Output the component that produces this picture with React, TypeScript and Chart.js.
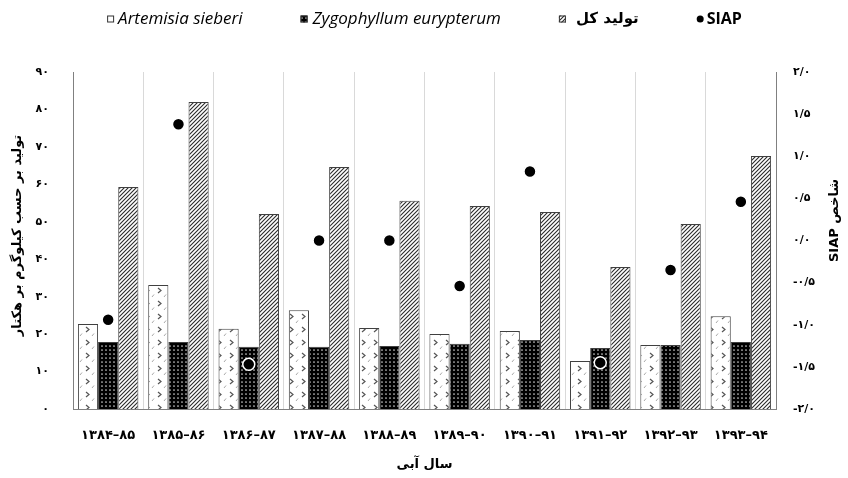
import React, { useEffect, useRef } from 'react';
import { Chart, registerables } from 'chart.js';
Chart.register(...registerables);

const categories = ['۱۳۸۴–۸۵', '۱۳۸۵–۸۶', '۱۳۸۶–۸۷', '۱۳۸۷–۸۸', '۱۳۸۸–۸۹', '۱۳۸۹–۹۰', '۱۳۹۰–۹۱', '۱۳۹۱–۹۲', '۱۳۹۲–۹۳', '۱۳۹۳–۹۴'];
const artemisia = [22.7, 33.1, 21.4, 26.4, 21.6, 20.0, 20.8, 12.8, 17.1, 24.8];
const zygophyllum = [17.9, 17.9, 16.6, 16.6, 16.8, 17.4, 18.4, 16.3, 17.1, 17.9];
const totalProduction = [59.3, 82.0, 52.1, 64.6, 55.6, 54.2, 52.6, 37.9, 49.4, 67.6];
const siap = [-0.94, 1.38, -1.47, 0.0, 0.0, -0.54, 0.82, -1.45, -0.35, 0.46];

const seriesNames = ['Artemisia sieberi', 'Zygophyllum eurypterum', 'تولید کل', 'SIAP'];
const leftAxisTitle = 'تولید بر حسب کیلوگرم بر هکتار';
const rightAxisTitle = 'شاخص SIAP';
const xAxisTitle = 'سال آبی';

const FA_DIGITS = '۰۱۲۳۴۵۶۷۸۹';
const toFa = (s: string) => s.replace(/\d/g, (d) => FA_DIGITS[Number(d)]);

const FA_FONT = '"DejaVu Sans", sans-serif';
const LAT_FONT = '"Open Sans", Lato, sans-serif';

function makePattern(kind: 'art' | 'zyg' | 'tot'): CanvasPattern | string {
  const c = document.createElement('canvas');
  const ctx = c.getContext('2d')!;
  if (kind === 'art') {
    c.width = 12; c.height = 13;
    ctx.fillStyle = '#ffffff';
    ctx.fillRect(0, 0, 12, 13);
    ctx.strokeStyle = '#555555';
    ctx.lineWidth = 1.2;
    ctx.beginPath();
    ctx.moveTo(2, 2); ctx.lineTo(5, 4.5); ctx.lineTo(2, 7);
    ctx.stroke();
    ctx.strokeStyle = '#aaaaaa';
    ctx.lineWidth = 1;
    ctx.beginPath();
    ctx.moveTo(8, 11); ctx.lineTo(10, 8.5);
    ctx.stroke();
  } else if (kind === 'zyg') {
    c.width = 4; c.height = 4;
    ctx.fillStyle = '#000000';
    ctx.fillRect(0, 0, 4, 4);
    ctx.fillStyle = '#d0d0d0';
    ctx.beginPath();
    ctx.arc(2, 2, 0.85, 0, Math.PI * 2);
    ctx.fill();
  } else {
    c.width = 4; c.height = 4;
    ctx.fillStyle = '#ffffff';
    ctx.fillRect(0, 0, 4, 4);
    ctx.strokeStyle = '#2a2a2a';
    ctx.lineWidth = 1.1;
    ctx.beginPath();
    ctx.moveTo(-1, 1); ctx.lineTo(1, -1);
    ctx.moveTo(0, 4); ctx.lineTo(4, 0);
    ctx.moveTo(3, 5); ctx.lineTo(5, 3);
    ctx.stroke();
  }
  return ctx.createPattern(c, 'repeat') || '#888';
}

export default function App() {
  const ref = useRef<HTMLCanvasElement | null>(null);

  useEffect(() => {
    if (!ref.current) return;
    const artP = makePattern('art');
    const zygP = makePattern('zyg');
    const totP = makePattern('tot');

    const decorPlugin = {
      id: 'decor',
      afterDraw(chart: any) {
        const ctx = chart.ctx as CanvasRenderingContext2D;
        const area = chart.chartArea;
        ctx.save();
        ctx.fillStyle = '#000';
        ctx.textBaseline = 'middle';
        ctx.textAlign = 'center';
        // left axis title
        ctx.save();
        ctx.font = `bold 13px ${FA_FONT}`;
        ctx.translate(18, (area.top + area.bottom) / 2 - 5);
        ctx.rotate(-Math.PI / 2);
        ctx.fillText(leftAxisTitle, 0, 0);
        ctx.restore();
        // right axis title
        ctx.save();
        ctx.font = `bold 13px ${FA_FONT}`;
        ctx.direction = 'rtl';
        ctx.translate(835, (area.top + area.bottom) / 2 - 20);
        ctx.rotate(-Math.PI / 2);
        ctx.fillText(rightAxisTitle, 0, 0);
        ctx.restore();
        // x axis title
        ctx.font = `bold 13px ${FA_FONT}`;
        ctx.fillText(xAxisTitle, (area.left + area.right) / 2, 465);

        // legend
        const fonts = [
          `italic 17px ${LAT_FONT}`,
          `italic 17px ${LAT_FONT}`,
          `bold 15px ${FA_FONT}`,
          `bold 16px ${LAT_FONT}`,
        ];
        const gaps = [4, 5, 10, 3];
        const boxW = 7, itemGap = 58;
        const widths = seriesNames.map((t, i) => {
          ctx.font = fonts[i];
          return boxW + gaps[i] + ctx.measureText(t).width;
        });
        const total = widths.reduce((a, b) => a + b, 0) + itemGap * (widths.length - 1);
        let x = (area.left + area.right) / 2 - total / 2;
        const y = 19;
        ctx.textAlign = 'left';
        seriesNames.forEach((t, i) => {
          if (i === 3) {
            ctx.fillStyle = '#000';
            ctx.beginPath();
            ctx.arc(x + 3.5, y, 3.5, 0, Math.PI * 2);
            ctx.fill();
          } else {
            ctx.fillStyle = i === 0 ? '#ffffff' : i === 1 ? (zygP as any) : (totP as any);
            ctx.fillRect(x, y - 3.5, boxW, boxW);
            ctx.strokeStyle = '#333';
            ctx.lineWidth = 1;
            ctx.strokeRect(x + 0.5, y - 3.5 + 0.5, boxW - 1, boxW - 1);
          }
          ctx.fillStyle = '#000';
          ctx.font = fonts[i];
          ctx.fillText(t, x + boxW + gaps[i], y);
          x += widths[i] + itemGap;
        });
        ctx.restore();
      },
    };

    const chart = new Chart(ref.current, {
      type: 'bar',
      data: {
        labels: categories,
        datasets: [
          {
            type: 'line',
            label: seriesNames[3],
            data: siap,
            yAxisID: 'y1',
            showLine: false,
            pointRadius: 6,
            pointBackgroundColor: '#000',
            pointBorderColor: '#ffffff',
            pointBorderWidth: 1.5,
            order: 0,
          } as any,
          {
            label: seriesNames[0],
            data: artemisia,
            backgroundColor: artP as any,
            borderColor: '#404040',
            borderWidth: 1,
            yAxisID: 'y',
            order: 1,
          },
          {
            label: seriesNames[1],
            data: zygophyllum,
            backgroundColor: zygP as any,
            borderColor: '#404040',
            borderWidth: 1,
            yAxisID: 'y',
            order: 1,
          },
          {
            label: seriesNames[2],
            data: totalProduction,
            backgroundColor: totP as any,
            borderColor: '#404040',
            borderWidth: 1,
            yAxisID: 'y',
            order: 1,
          },
        ],
      },
      options: {
        animation: false,
        responsive: false,
        devicePixelRatio: 1,
        layout: { padding: { top: 72, left: 0, right: 0, bottom: 0 } },
        datasets: { bar: { categoryPercentage: 0.86, barPercentage: 1 } },
        plugins: { legend: { display: false }, tooltip: { enabled: false } },
        scales: {
          x: {
            offset: true,
            grid: { color: '#d9d9d9', offset: true, drawTicks: false },
            border: { color: '#808080' },
            ticks: {
              color: '#000',
              font: { family: FA_FONT, size: 13, weight: 'bold' },
              padding: 19,
              maxRotation: 0,
              autoSkip: false,
            },
            afterFit: (s: any) => { s.height = 69; },
          },
          y: {
            position: 'left',
            min: 0,
            max: 90,
            grid: { display: false },
            border: { color: '#808080' },
            ticks: {
              stepSize: 10,
              color: '#000',
              font: { family: FA_FONT, size: 11, weight: 'bold' },
              padding: 16,
              callback: (v: any) => toFa(String(v)),
            },
            afterFit: (s: any) => { s.width = 73; },
          },
          y1: {
            position: 'right',
            min: -2,
            max: 2,
            grid: { display: false },
            border: { color: '#808080' },
            ticks: {
              stepSize: 0.5,
              color: '#000',
              font: { family: FA_FONT, size: 11, weight: 'bold' },
              padding: 9,
              callback: (v: any) => toFa(Number(v).toFixed(1).replace('.', '/')),
            },
            afterFit: (s: any) => { s.width = 72; },
          },
        },
      } as any,
      plugins: [decorPlugin],
    });
    return () => chart.destroy();
  }, []);

  return (
    <div style={{ position: 'absolute', left: 0, top: 0, width: 848, height: 478, background: '#fff' }}>
      <canvas ref={ref} width={848} height={478} style={{ width: 848, height: 478 }} />
    </div>
  );
}
